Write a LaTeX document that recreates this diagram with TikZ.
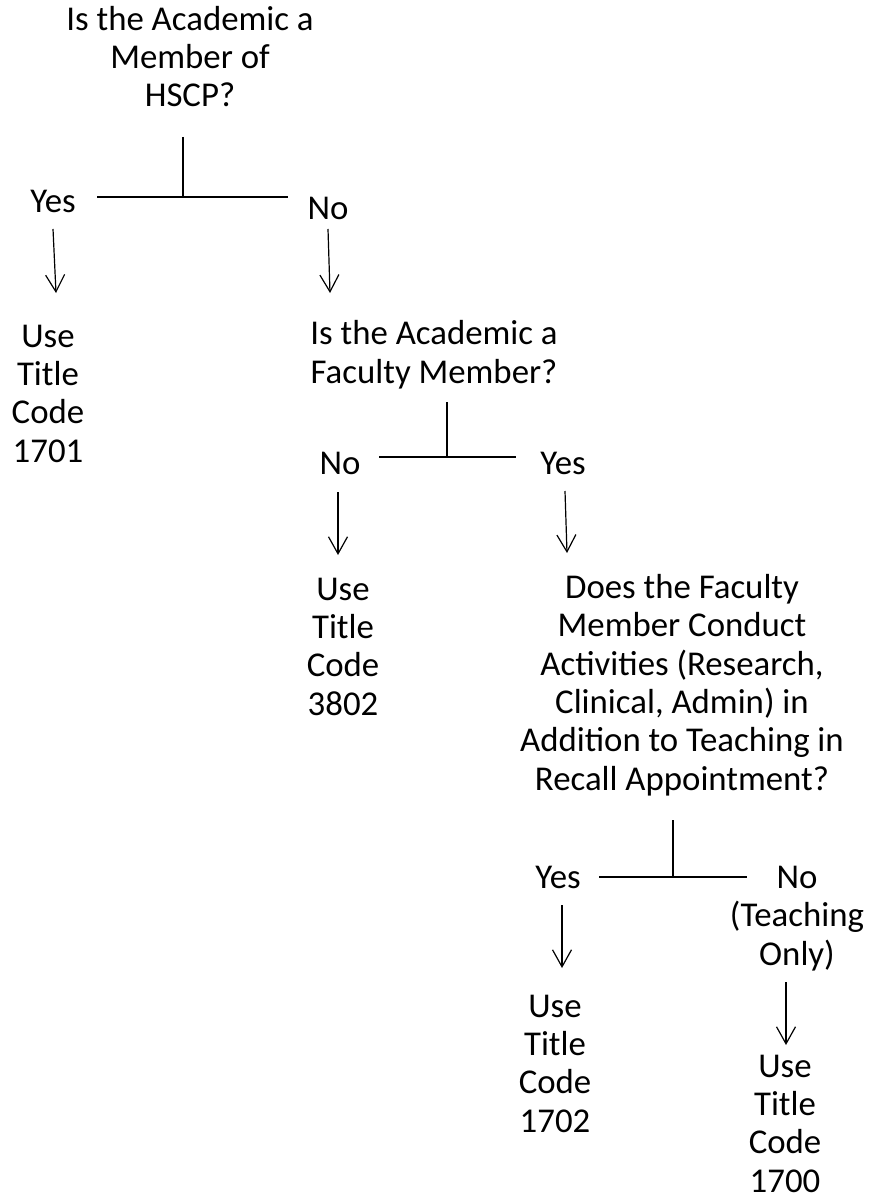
\documentclass[tikz,border=0pt]{standalone}
\usepackage{fontspec}
\setmainfont{Carlito}
\usetikzlibrary{arrows.meta,positioning}
\tikzstyle{label}=[inner sep=0pt, align=center, anchor=base, font=\fontsize{34.8}{38.3}\selectfont]
\tikzstyle{branchLine}=[line width=1.4pt]
\tikzstyle{choiceArrow}=[line width=1.2pt, -{Straight Barb[length=17pt,width=19pt,line width=1.2pt]}]

\begin{document}
\begin{tikzpicture}[x=1pt, y=-1pt]
    \useasboundingbox (0,0) rectangle (868,1198);

    % questions
    \node[label] (q1) at (190,107) {Is the Academic a\\Member of\\HSCP?};
    \node[label] (q2) at (434,383) {Is the Academic a\\Faculty Member?};
    \node[label] (q3) at (682,790) {Does the Faculty\\Member Conduct\\Activities (Research,\\Clinical, Admin) in\\Addition to Teaching in\\Recall Appointment?};

    % answers
    \node[label] (yes1) at (53,213) {Yes};
    \node[label] (no1) at (328,220) {No};
    \node[label] (no2) at (340,474) {No};
    \node[label] (yes2) at (563,474) {Yes};
    \node[label] (yes3) at (558,888) {Yes};
    \node[label] (no3) at (797,965) {No\\(Teaching\\Only)};

    % title codes
    \node[label] (c1701) at (48,462) {Use\\Title\\Code\\1701};
    \node[label] (c3802) at (343,715) {Use\\Title\\Code\\3802};
    \node[label] (c1702) at (555,1132) {Use\\Title\\Code\\1702};
    \node[label] (c1700) at (785,1192) {Use\\Title\\Code\\1700};

    % junctions
    \coordinate (s1) at (183,137);
    \coordinate (j1) at (183,197);
    \coordinate (s2) at (447,402);
    \coordinate (j2) at (447,457);
    \coordinate (s3) at (673,820);
    \coordinate (j3) at (673,877);

    % splits
    \draw[branchLine] (s1) -- (j1);
    \draw[branchLine] (97,197) -- (288,197);
    \draw[branchLine] (s2) -- (j2);
    \draw[branchLine] (379,457) -- (516,457);
    \draw[branchLine] (s3) -- (j3);
    \draw[branchLine] (599,877) -- (747,877);

    % arrows
    \draw[choiceArrow] ([yshift=-16pt]yes1.base) -- ([xshift=8pt,yshift=169pt]c1701.base);
    \draw[choiceArrow] ([yshift=-9pt]no1.base) -- ([xshift=-104pt,yshift=90pt]q2.base);
    \draw[choiceArrow] ([xshift=-2pt,yshift=-18pt]no2.base) -- ([xshift=-5pt,yshift=160pt]c3802.base);
    \draw[choiceArrow] ([xshift=2pt,yshift=-17pt]yes2.base) -- ([xshift=-115pt,yshift=237pt]q3.base);
    \draw[choiceArrow] ([xshift=4pt,yshift=-17pt]yes3.base) -- ([xshift=7pt,yshift=164pt]c1702.base);
    \draw[choiceArrow] ([xshift=-11pt,yshift=-17pt]no3.base) -- ([xshift=1pt,yshift=147pt]c1700.base);
\end{tikzpicture}
\end{document}
